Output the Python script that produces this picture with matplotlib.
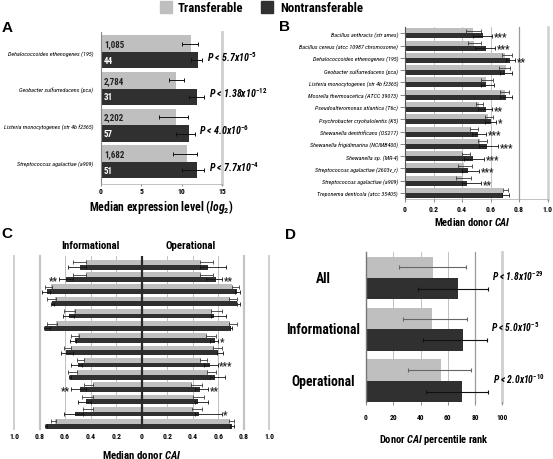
import numpy as np
import matplotlib
matplotlib.use('Agg')
import matplotlib.pyplot as plt
from matplotlib import font_manager as fm
from matplotlib.patches import Rectangle

W, H = 553, 460

avail = {f.name for f in fm.fontManager.ttflist}
narrow = [n for n in ['Liberation Sans Narrow', 'Roboto Condensed', 'Open Sans Condensed',
                      'Arial Narrow', 'Noto Sans Condensed'] if n in avail]
COND = narrow[0] if narrow else 'Liberation Sans'
plt.rcParams['font.family'] = [COND, 'DejaVu Sans']
plt.rcParams['mathtext.fontset'] = 'custom'
plt.rcParams['mathtext.it'] = f'{COND}:italic:bold'
plt.rcParams['mathtext.rm'] = f'{COND}:bold'
plt.rcParams['mathtext.bf'] = f'{COND}:bold'
plt.rcParams['mathtext.default'] = 'it'

LIGHT = '#bfbfbf'
DARK = '#303030'
ELIGHT = '#3a3a3a'
EDARK = '#111111'

# ---------------- data ----------------
# Panel A
a_species = ['Dehalococcoides ethenogenes (195)', 'Geobacter sulfurreducens (pca)',
             'Listeria monocytogenes (str 4b f2365)', 'Streptococcus agalactiae (a909)']
a_trans = [11.1, 9.25, 9.25, 10.65]
a_trans_lo = [10.1, 8.4, 7.2, 8.9]
a_trans_hi = [12.0, 10.3, 10.8, 11.9]
a_non = [12.05, 11.85, 10.95, 11.85]
a_non_lo = [11.2, 10.9, 9.3, 10.1]
a_non_hi = [12.5, 12.8, 11.6, 12.8]
a_n_trans = ['1,085', '2,784', '2,202', '1,682']
a_n_non = ['44', '31', '57', '51']
a_pval = [r'P < 5.7x10$^{-5}$', r'P < 1.38x10$^{-12}$', r'P < 4.0x10$^{-6}$', r'P < 7.7x10$^{-4}$']
a_ticks = [0, 5, 10, 15]

# Panel B
b_species = ['Bacillus anthracis (str ames)', 'Bacillus cereus (atcc 10987 chromosome)',
             'Dehalococcoides ethenogenes (195)', 'Geobacter sulfurreducens (pca)',
             'Listeria monocytogenes (str 4b f2365)', 'Moorella thermoacetica (ATCC 39073)',
             'Pseudoalteromonas atlantica (T6c)', 'Psychrobacter cryohalolentis (K5)',
             'Shewanella denitrificans (OS217)', 'Shewanella frigidimarina (NCIMB400)',
             'Shewanella sp. (MR-4)', 'Streptococcus agalactiae (2603v_r)',
             'Streptococcus agalactiae (a909)', 'Treponema denticola (atcc 35405)']
b_trans = [0.475, 0.485, 0.705, 0.71, 0.57, 0.705, 0.52, 0.58, 0.465, 0.525, 0.405, 0.415, 0.41, 0.685]
b_trans_lo = [0.43, 0.44, 0.68, 0.66, 0.53, 0.665, 0.50, 0.56, 0.455, 0.515, 0.40, 0.375, 0.36, 0.685]
b_trans_hi = [0.53, 0.53, 0.75, 0.74, 0.615, 0.73, 0.55, 0.615, 0.515, 0.573, 0.456, 0.47, 0.463, 0.725]
b_non = [0.545, 0.565, 0.735, 0.70, 0.57, 0.71, 0.57, 0.60, 0.515, 0.573, 0.475, 0.444, 0.433, 0.69]
b_non_lo = [0.48, 0.49, 0.71, 0.67, 0.53, 0.665, 0.51, 0.56, 0.47, 0.52, 0.416, 0.40, 0.40, 0.68]
b_non_hi = [0.61, 0.63, 0.77, 0.75, 0.625, 0.75, 0.61, 0.64, 0.566, 0.655, 0.557, 0.52, 0.533, 0.73]
b_stars = ['***', '***', '**', '', '', '', '**', '*', '***', '***', '***', '***', '**', '']
b_ticks = [0, 0.2, 0.4, 0.6, 0.8, 1.0]

# Panel C (Informational / Operational)
ci_trans = [0.44, 0.44, 0.71, 0.68, 0.53, 0.67, 0.495, 0.555, 0.455, 0.51, 0.385, 0.39, 0.385, 0.68]
ci_trans_lo = [0.435, 0.435, 0.705, 0.675, 0.525, 0.665, 0.49, 0.55, 0.45, 0.505, 0.38, 0.385, 0.38, 0.675]
ci_trans_hi = [0.535, 0.535, 0.755, 0.745, 0.61, 0.74, 0.55, 0.61, 0.51, 0.575, 0.45, 0.47, 0.46, 0.71]
ci_non = [0.48, 0.59, 0.74, 0.70, 0.57, 0.76, 0.52, 0.59, 0.50, 0.565, 0.48, 0.44, 0.52, 0.75]
ci_non_lo = [0.435, 0.54, 0.72, 0.69, 0.53, 0.715, 0.515, 0.535, 0.47, 0.55, 0.435, 0.40, 0.46, 0.745]
ci_non_hi = [0.575, 0.645, 0.78, 0.71, 0.62, 0.765, 0.56, 0.63, 0.55, 0.57, 0.55, 0.50, 0.61, 0.755]
ci_stars = ['', '**', '', '', '', '', '', '', '', '', '**', '', '', '']
co_trans = [0.46, 0.465, 0.71, 0.69, 0.55, 0.69, 0.51, 0.565, 0.465, 0.52, 0.39, 0.405, 0.395, 0.685]
co_trans_lo = [0.455, 0.46, 0.705, 0.685, 0.545, 0.685, 0.505, 0.56, 0.46, 0.515, 0.385, 0.40, 0.39, 0.68]
co_trans_hi = [0.56, 0.555, 0.765, 0.75, 0.625, 0.75, 0.58, 0.625, 0.515, 0.58, 0.47, 0.49, 0.475, 0.72]
co_non = [0.52, 0.58, 0.745, 0.75, 0.57, 0.70, 0.575, 0.595, 0.535, 0.575, 0.46, 0.44, 0.45, 0.705]
co_non_lo = [0.455, 0.50, 0.73, 0.745, 0.54, 0.695, 0.535, 0.59, 0.49, 0.535, 0.42, 0.42, 0.42, 0.69]
co_non_hi = [0.66, 0.63, 0.77, 0.77, 0.66, 0.705, 0.60, 0.64, 0.595, 0.655, 0.52, 0.52, 0.625, 0.725]
co_stars = ['', '**', '', '', '', '', '*', '', '***', '', '**', '', '*', '']
c_ticks = [-1.0, -0.8, -0.6, -0.4, -0.2, 0, 0.2, 0.4, 0.6, 0.8, 1.0]
c_ticklabels = ['1.0', '0.8', '0.6', '0.4', '0.2', '0', '0.2', '0.4', '0.6', '0.8', '1.0']

# Panel D
d_groups = ['All', 'Informational', 'Operational']
d_trans = [49.4, 48.7, 55.0]
d_trans_lo = [24.5, 27.0, 30.5]
d_trans_hi = [73.5, 74.3, 77.0]
d_non = [67.5, 71.0, 70.6]
d_non_lo = [38.5, 41.5, 44.0]
d_non_hi = [89.3, 88.5, 89.7]
d_pval = [r'P < 1.8x10$^{-29}$', r'P < 5.0x10$^{-5}$', r'P < 2.0x10$^{-10}$']
d_ticks = [0, 20, 40, 60, 80, 100]

fig = plt.figure(figsize=(W / 100, H / 100), dpi=100)


def ax_px(x0, y0, x1, y1):
    return fig.add_axes([x0 / W, 1 - y1 / H, (x1 - x0) / W, (y1 - y0) / H])


def bars(ax, y, h, vals, lo, hi, color, ecolor, sign=1, cap=1.3, lw=0.7):
    vals = np.asarray(vals); lo = np.asarray(lo); hi = np.asarray(hi)
    ax.barh(y, sign * vals, height=h, color=color, zorder=2)
    if sign > 0:
        xerr = [vals - lo, hi - vals]
    else:
        xerr = [hi - vals, vals - lo]
    ax.errorbar(sign * vals, y, xerr=xerr, fmt='none', ecolor=ecolor,
                elinewidth=lw, capsize=cap, capthick=lw, zorder=3)


def style_ticks(ax, size=5.5):
    for lab in ax.get_xticklabels():
        lab.set_fontweight('bold')
        lab.set_fontsize(size)


PSIZE = 7.2
LSIZE = 4.4

# ---------------- Panel A ----------------
axA = ax_px(101, 33, 222, 185)
yA = np.arange(len(a_species))
hA = 0.45
bars(axA, yA - hA / 2, hA, a_trans, a_trans_lo, a_trans_hi, LIGHT, EDARK, cap=1.6)
bars(axA, yA + hA / 2, hA, a_non, a_non_lo, a_non_hi, DARK, EDARK, cap=1.6)
axA.set_xlim(0, 15)
axA.set_ylim(3.6, -0.545)
axA.axvline(15, color='#cfcfcf', lw=2, zorder=1, clip_on=False)
for i in range(len(yA)):
    axA.text(0.35, yA[i] - hA / 2, a_n_trans[i], ha='left', va='center', fontsize=6.5,
             fontweight='bold', color='#222222', zorder=4)
    axA.text(0.35, yA[i] + hA / 2, a_n_non[i], ha='left', va='center', fontsize=6.5,
             fontweight='bold', color='white', zorder=4)
    axA.text(max(a_non_hi[i], a_trans_hi[i]) + 0.6, yA[i] + 0.1, a_pval[i], ha='left',
             va='center', fontsize=PSIZE, fontstyle='italic', fontweight='bold', clip_on=False)
axA.set_yticks(yA)
axA.set_yticklabels(a_species, fontstyle='italic', fontsize=LSIZE)
axA.tick_params(axis='y', length=0, pad=5.5)
axA.set_xticks(a_ticks)
axA.tick_params(axis='x', length=1.5, width=0.6, color='#777777', pad=1)
style_ticks(axA, 5.5)
for s in ['top', 'right']:
    axA.spines[s].set_visible(False)
axA.spines['left'].set_color('#888888')
axA.spines['bottom'].set_color('#aaaaaa')
axA.spines['bottom'].set_linewidth(0.5)
axA.set_xlabel(r'Median expression level ($log_2$)', fontsize=8.5, fontweight='bold')
axA.xaxis.set_label_coords(0.5, -0.085)
axA.xaxis.label.set_va('top')

# ---------------- Panel B ----------------
axB = ax_px(405, 28, 547.5, 200)
yB = np.arange(len(b_species))
hB = 0.41
for gx, gc, gw in [(0.2, '#b5b5b5', 0.6), (0.4, '#b5b5b5', 0.6), (0.6, '#b5b5b5', 0.6),
                   (0.8, '#9a9a9a', 0.9), (1.0, '#cfcfcf', 1.8)]:
    axB.axvline(gx, color=gc, lw=gw, zorder=1, clip_on=False)
bars(axB, yB - hB / 2, hB, b_trans, b_trans_lo, b_trans_hi, LIGHT, ELIGHT, cap=1.2, lw=0.6)
bars(axB, yB + hB / 2, hB, b_non, b_non_lo, b_non_hi, DARK, EDARK, cap=1.2, lw=0.6)
for i in range(len(yB)):
    if b_stars[i]:
        axB.text(max(b_non_hi[i], b_trans_hi[i]) + 0.012, yB[i] + 0.25, b_stars[i],
                 ha='left', va='center', fontsize=7, fontweight='bold', color='#222222')
axB.set_xlim(0, 1.0)
axB.set_ylim(13.49, -0.51)
axB.set_yticks(yB)
axB.set_yticklabels(b_species, fontstyle='italic', fontsize=LSIZE)
axB.tick_params(axis='y', length=3.5, width=0.5, color='#555555', pad=1.5)
axB.set_xticks(b_ticks)
axB.set_xticklabels(['0', '0.2', '0.4', '0.6', '0.8', '1.0'])
axB.tick_params(axis='x', length=2, width=0.6, color='#777777', pad=2.5)
style_ticks(axB, 5.5)
for s in ['top', 'right']:
    axB.spines[s].set_visible(False)
axB.spines['left'].set_color('#555555')
axB.spines['left'].set_linewidth(0.8)
axB.spines['bottom'].set_color('#aaaaaa')
axB.spines['bottom'].set_linewidth(0.5)
axB.set_xlabel(r'Median donor $CAI$', fontsize=7.6, fontweight='bold')
axB.xaxis.set_label_coords(0.47, -0.095)
axB.xaxis.label.set_va('top')

# ---------------- Panel C ----------------
axC = ax_px(14, 256.7, 269.4, 430)
yC = np.arange(len(ci_trans))
hC = 0.39
for gx in [0.2, 0.4, 0.6]:
    for sg in (-1, 1):
        axC.axvline(sg * gx, color='#b5b5b5', lw=0.6, zorder=1)
for sg in (-1, 1):
    axC.axvline(sg * 0.8, color='#c4c4c4', lw=1.6, zorder=1, clip_on=False)
    axC.axvline(sg * 1.0, color='#cfcfcf', lw=1.4, zorder=1, clip_on=False)
bars(axC, yC - hC / 2, hC, ci_trans, ci_trans_lo, ci_trans_hi, LIGHT, ELIGHT, sign=-1, cap=1.2, lw=0.6)
bars(axC, yC + hC / 2, hC, ci_non, ci_non_lo, ci_non_hi, DARK, EDARK, sign=-1, cap=1.2, lw=0.6)
bars(axC, yC - hC / 2, hC, co_trans, co_trans_lo, co_trans_hi, LIGHT, ELIGHT, sign=1, cap=1.2, lw=0.6)
bars(axC, yC + hC / 2, hC, co_non, co_non_lo, co_non_hi, DARK, EDARK, sign=1, cap=1.2, lw=0.6)
axC.axvline(0, color='#2a2a2a', lw=1.6, zorder=5)
for i in range(len(yC)):
    if ci_stars[i]:
        axC.text(-(max(ci_non_hi[i], ci_trans_hi[i]) + 0.012), yC[i] + 0.25, ci_stars[i],
                 ha='right', va='center', fontsize=7, fontweight='bold', color='#222222')
    if co_stars[i]:
        axC.text(max(co_non_hi[i], co_trans_hi[i]) + 0.012, yC[i] + 0.25, co_stars[i],
                 ha='left', va='center', fontsize=7, fontweight='bold', color='#222222')
axC.set_xlim(-1.0, 1.0)
axC.set_ylim(13.43, -0.74)
axC.set_yticks([])
axC.set_xticks(c_ticks)
axC.set_xticklabels(c_ticklabels)
axC.tick_params(axis='x', length=0, pad=2.5)
style_ticks(axC, 5.5)
for s in axC.spines.values():
    s.set_visible(False)
axC.text(0.3, 1.06, 'Informational', transform=axC.transAxes, ha='center', va='center',
         fontsize=7.8, fontweight='bold')
axC.text(0.69, 1.06, 'Operational', transform=axC.transAxes, ha='center', va='center',
         fontsize=7.8, fontweight='bold')
axC.set_xlabel(r'Median donor $CAI$', fontsize=7.8, fontweight='bold')
axC.xaxis.set_label_coords(0.5, -0.11)
axC.xaxis.label.set_va('top')

# ---------------- Panel D ----------------
axD = ax_px(366, 253, 502.3, 403)
yD = np.arange(len(d_groups))
hD = 0.417
for gx, gc, gw in [(20, '#b5b5b5', 0.6), (40, '#b5b5b5', 0.6), (60, '#b5b5b5', 0.6),
                   (80, '#9a9a9a', 0.9), (100, '#cfcfcf', 2.0)]:
    axD.axvline(gx, color=gc, lw=gw, zorder=1, clip_on=False)
bars(axD, yD - hD / 2, hD, d_trans, d_trans_lo, d_trans_hi, LIGHT, '#666666', cap=1.5, lw=0.8)
bars(axD, yD + hD / 2, hD, d_non, d_non_lo, d_non_hi, DARK, EDARK, cap=1.5, lw=0.8)
for i in range(len(yD)):
    axD.text(-31.5, yD[i], d_groups[i], ha='center', va='center', fontsize=9.8,
             fontweight='bold', clip_on=False)
    axD.text(d_non_hi[i] + 3.5, yD[i] - 0.06, d_pval[i], ha='left', va='center',
             fontsize=PSIZE - 0.3, fontstyle='italic', fontweight='bold', clip_on=False)
axD.set_xlim(0, 100)
axD.set_ylim(2.41, -0.505)
axD.set_yticks([])
axD.set_xticks(d_ticks)
axD.tick_params(axis='x', length=2, width=0.6, color='#777777', pad=6)
style_ticks(axD, 5.3)
for s in ['top', 'right', 'bottom']:
    axD.spines[s].set_visible(False)
axD.spines['left'].set_color('#777777')
axD.spines['left'].set_linewidth(1.0)
axD.set_xlabel(r'Donor $CAI$ percentile rank', fontsize=7.6, fontweight='bold')
axD.xaxis.set_label_coords(0.5, -0.2)
axD.xaxis.label.set_va('top')

# ---------------- panel letters ----------------
for lab, x, y in [('A', 2, 32), ('B', 279, 31), ('C', 1, 238), ('D', 285, 239)]:
    fig.text(x / W, 1 - y / H, lab, fontsize=11, fontweight='bold',
             family=['Liberation Sans', 'DejaVu Sans'],
             ha='left', va='baseline')

# ---------------- legend ----------------
fig.patches.append(Rectangle((160 / W, 1 - 13.5 / H), 12 / W, 11.5 / H, color=LIGHT,
                             transform=fig.transFigure, figure=fig))
fig.text(178 / W, 1 - 8 / H, 'Transferable', fontsize=9.2, fontweight='bold',
         ha='left', va='center')
fig.patches.append(Rectangle((261 / W, 1 - 13.5 / H), 12 / W, 11.5 / H, color=DARK,
                             transform=fig.transFigure, figure=fig))
fig.text(280 / W, 1 - 8 / H, 'Nontransferable', fontsize=9.2, fontweight='bold',
         ha='left', va='center')

fig.savefig('out.png', dpi=100)
